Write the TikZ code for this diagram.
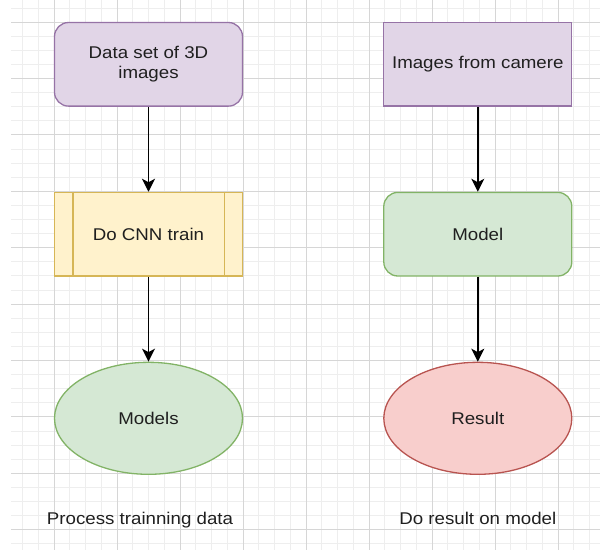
\documentclass[tikz,border=0pt]{standalone}
\usepackage{fontspec}
\setmainfont[FakeStretch=1.1]{Liberation Sans}
\usetikzlibrary{arrows.meta,positioning,shapes.geometric}

\definecolor{moradoRelleno}{HTML}{E1D5E7}
\definecolor{moradoBorde}{HTML}{9673A6}
\definecolor{amarilloRelleno}{HTML}{FFF2CC}
\definecolor{amarilloBorde}{HTML}{D6B656}
\definecolor{verdeRelleno}{HTML}{D5E8D4}
\definecolor{verdeBorde}{HTML}{82B366}
\definecolor{rojoRelleno}{HTML}{F8CECC}
\definecolor{rojoBorde}{HTML}{B85450}
\definecolor{textoGris}{HTML}{1F1F1F}
\definecolor{rejillaMayor}{HTML}{D6D6D6}
\definecolor{rejillaMenor}{HTML}{EEEEEE}

\tikzset{
  caja/.style={draw, rectangle, minimum width=188pt, minimum height=83.6pt, inner sep=0pt, align=center, line width=1.3pt, text=textoGris},
  elipse/.style={draw, ellipse, minimum width=188pt, minimum height=112pt, inner sep=0pt, align=center, line width=1.3pt, text=textoGris},
  etiqueta/.style={inner sep=0pt, text=textoGris},
  flecha/.style={->, line width=1.5pt, black},
  menor/.style={rejillaMenor, line width=0.8pt},
  mayor/.style={rejillaMayor, line width=1pt}
}

\begin{document}
\begin{tikzpicture}[x=1pt, y=-1pt, node distance=85pt, >={Stealth[length=13pt,width=13pt,inset=3.5pt]}, font=\fontsize{17}{20}\selectfont]
        \useasboundingbox (0,0) rectangle (600,550);
        % Rejilla de fondo
        \begin{scope}
            \clip (11,0) rectangle (600,550);
            \foreach \i in {-3,...,35} \draw[menor] ({54+15.75*\i},0) -- ({54+15.75*\i},550);
            \foreach \j in {-2,...,38} \draw[menor] (0,{22+14.1*\j}) -- (600,{22+14.1*\j});
            \foreach \i in {-1,...,9} \draw[mayor] ({54+63*\i},0) -- ({54+63*\i},550);
            \foreach \j in {-1,...,10} \draw[mayor] (0,{22+56.4*\j}) -- (600,{22+56.4*\j});
        \end{scope}
        % Columna izquierda: datos de entrenamiento
        \node[caja, rounded corners=14pt, fill=moradoRelleno, draw=moradoBorde] (datos) at (148.5,64.3) {Data set of 3D\\images};
        \node[caja, fill=amarilloRelleno, draw=amarilloBorde, below=of datos] (entrenar) {Do CNN train};
        \draw[amarilloBorde, line width=1.3pt] ([xshift=19pt]entrenar.north west) -- ([xshift=19pt]entrenar.south west);
        \draw[amarilloBorde, line width=1.3pt] ([xshift=-19pt]entrenar.north east) -- ([xshift=-19pt]entrenar.south east);
        \node[elipse, fill=verdeRelleno, draw=verdeBorde, below=of entrenar] (modelos) {Models};
        % Columna derecha: uso del modelo
        \node[caja, fill=moradoRelleno, draw=moradoBorde, right=140pt of datos] (camara) {Images from camere};
        \node[caja, rounded corners=14pt, fill=verdeRelleno, draw=verdeBorde, below=of camara] (modelo) {Model};
        \node[elipse, fill=rojoRelleno, draw=rojoBorde, below=of modelo] (resultado) {Result};
        % Flechas
        \draw[flecha] (datos) -- (entrenar);
        \draw[flecha] (entrenar) -- (modelos);
        \draw[flecha] (camara) -- (modelo);
        \draw[flecha] (modelo) -- (resultado);
        % Titulos de cada columna
        \node[etiqueta, anchor=base] (tituloIzq) at ([xshift=-8.5pt, yshift=-49.7pt]modelos.south) {Process trainning data};
        \node[etiqueta, anchor=base] (tituloDer) at ([yshift=-49.7pt]resultado.south) {Do result on model};
    \end{tikzpicture}
\end{document}
